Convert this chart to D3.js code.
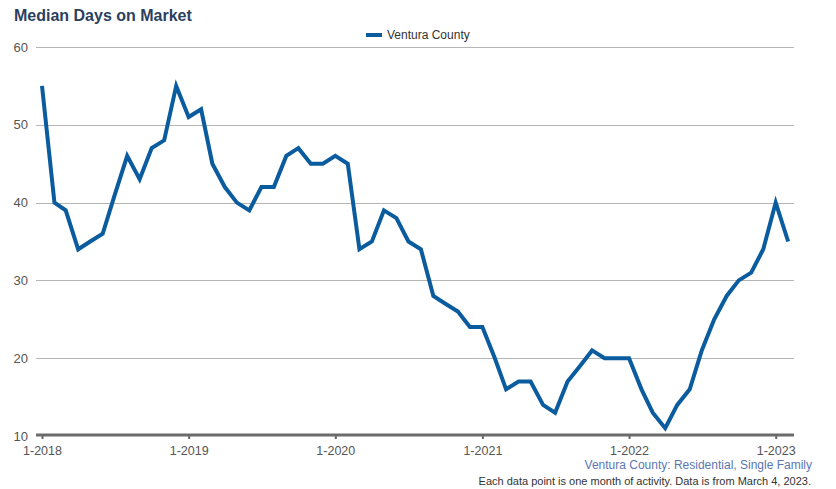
<!DOCTYPE html>
<html><head><meta charset="utf-8">
<script src="https://cdn.jsdelivr.net/npm/d3@7"></script>
<style>
html,body{margin:0;padding:0;background:#fff;}
svg{display:block;font-family:"Liberation Sans",Arial,sans-serif;}
</style></head>
<body><svg id="chart" width="836" height="489"></svg>
<script>
const title = "Median Days on Market";
const seriesName = "Ventura County";
const startMonth = "2018-01";
const values = [55,40,39,34,35,36,41,46,43,47,48,55,
                51,52,45,42,40,39,42,42,46,47,45,45,
                46,45,34,35,39,38,35,34,28,27,26,24,
                24,20,16,17,17,14,13,17,19,21,20,20,
                20,16,13,11,14,16,21,25,28,30,31,34,
                40,35];
const yTicks = [10,20,30,40,50,60];
const xTickYears = [2018,2019,2020,2021,2022,2023];
const footer1 = "Ventura County: Residential, Single Family";
const footer2 = "Each data point is one month of activity. Data is from March 4, 2023.";

const svg = d3.select("#chart");
const [sy, sm] = startMonth.split("-").map(Number);
const data = values.map((v,i)=>({date:new Date(sy, sm-1+i, 1), value:v}));

const x = d3.scaleTime().domain([new Date(2018,0,1), new Date(2023,0,1)]).range([42, 775.7]);
const y = d3.scaleLinear().domain([10,60]).range([436,47]);
const plotLeft = 36, plotRight = 794;

// gridlines
svg.append("g").selectAll("line").data(yTicks.filter(t=>t!==10)).join("line")
  .attr("x1",plotLeft).attr("x2",plotRight)
  .attr("y1",d=>Math.round(y(d))+0.5).attr("y2",d=>Math.round(y(d))+0.5)
  .attr("stroke","#b5b5b5").attr("stroke-width",1);

// y labels
svg.append("g").selectAll("text").data(yTicks).join("text")
  .attr("x",28).attr("y",d=>y(d)).attr("dy","0.35em")
  .attr("text-anchor","end").attr("font-size",13).attr("fill","#555")
  .text(d=>d);

// x axis
const xAxis = d3.axisBottom(x)
  .tickValues(xTickYears.map(yr=>new Date(yr,0,1)))
  .tickFormat(d=>"1-"+d.getFullYear())
  .tickSize(4).tickSizeOuter(0);
const gx = svg.append("g").attr("transform","translate(0,435)").call(xAxis);
gx.select(".domain").remove();
gx.selectAll(".tick line").attr("stroke","#666").attr("stroke-width",2);
gx.selectAll(".tick text").attr("font-size",12.5).attr("fill","#555")
  .attr("font-family","Liberation Sans, Arial, sans-serif").attr("dy","1.05em");
svg.append("line").attr("x1",plotLeft).attr("x2",plotRight).attr("y1",435).attr("y2",435)
  .attr("stroke","#6b6b6b").attr("stroke-width",3);

// line
const line = d3.line().x(d=>x(d.date)).y(d=>y(d.value));
svg.append("path").datum(data).attr("d",line)
  .attr("fill","none").attr("stroke","#0a5c9e").attr("stroke-width",4)
  .attr("stroke-linejoin","miter").attr("stroke-miterlimit",4);

// title
svg.append("text").attr("x",14).attr("y",21).attr("font-size",16).attr("font-weight","bold")
  .attr("fill","#2b3f5e").text(title);

// legend
svg.append("line").attr("x1",366).attr("x2",382).attr("y1",35).attr("y2",35)
  .attr("stroke","#0a5c9e").attr("stroke-width",4);
svg.append("text").attr("x",387).attr("y",35).attr("dy","0.35em").attr("font-size",12)
  .attr("fill","#333").text(seriesName);

// footer
svg.append("text").attr("x",812).attr("y",469).attr("text-anchor","end").attr("font-size",12)
  .attr("fill","#5b78b0").text(footer1);
svg.append("text").attr("x",811).attr("y",485).attr("text-anchor","end").attr("font-size",11)
  .attr("fill","#333").text(footer2);
</script></body></html>
